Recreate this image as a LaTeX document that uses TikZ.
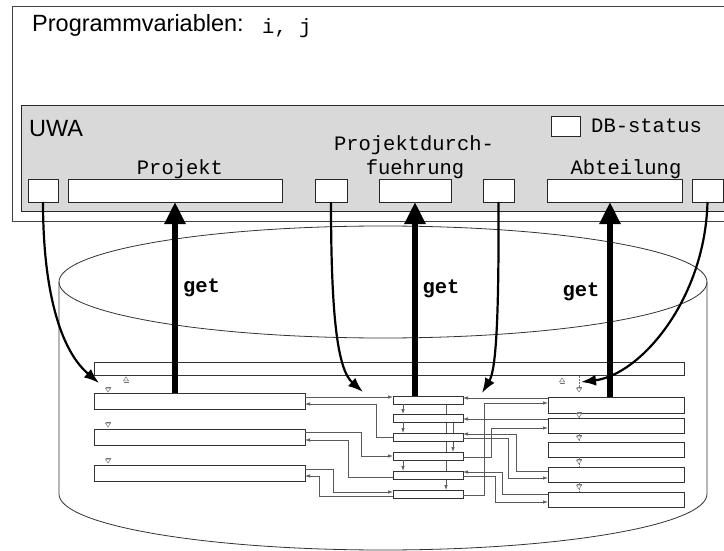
\documentclass[tikz,border=0pt]{standalone}
\usepackage{fontspec}
\setmainfont{Liberation Sans}
\setmonofont{Liberation Mono}
\usetikzlibrary{arrows.meta,backgrounds}
\begin{document}
\begin{tikzpicture}[x=1pt,y=-1pt,
  box/.style={draw=black!85, line width=0.9pt, fill=white, inner sep=0pt, outer sep=0pt},
  rec/.style={draw=black!80, line width=0.8pt, fill=white, inner sep=0pt, outer sep=0pt},
  conn/.style={draw=black!65, line width=0.7pt, -{Latex[length=5pt,width=3.5pt]}},
  getarr/.style={line width=6pt, -{Triangle[length=22pt,width=20pt]}},
  curv/.style={line width=2.2pt, -{Latex[length=15pt,width=11pt]}},
  sans/.style={font=\fontsize{23.5}{27}\selectfont, inner sep=0pt},
  mono/.style={font=\fontsize{20.5}{25}\selectfont\ttfamily, inner sep=0pt},
  getlbl/.style={font=\fontsize{20.5}{25}\selectfont\ttfamily\bfseries, inner sep=0pt},
  mk/.style={draw=black!55, line width=0.5pt, fill=white},
  mkline/.style={draw=black!55, line width=0.5pt},
  dnmk/.pic={\path[mk] (-2.5,-1.8) -- (2.5,-1.8) -- (0,2) -- cycle; \path[mkline] (-2.5,-3) -- (2.5,-3);},
  upmk/.pic={\path[mk] (-2.5,1.8) -- (2.5,1.8) -- (0,-2) -- cycle; \path[mkline] (-2.5,3) -- (2.5,3);}
]
\useasboundingbox (0,0) rectangle (724,551);
\clip (0,0) rectangle (724,551);

% program box and UWA
\node[box, draw=black!75, minimum width=718, minimum height=215, anchor=north west] (outer) at (12,6) {};
\node[box, fill=black!15, minimum width=709, minimum height=106, anchor=north west] (uwa) at (21,105) {};

\node[sans, anchor=base west] (pv) at (32,32) {Programmvariablen:};
\node[mono, anchor=base west] (ij) at (262,34) {i, j};
\node[sans, anchor=base west] (uwalbl) at (29,137) {UWA};
\node[box, minimum width=29, minimum height=20] (db) at (565.5,126) {};
\node[mono, anchor=base west] (dblbl) at (591,133) {DB-status};
\node[mono, anchor=base] (pdl1) at (414,150) {Projektdurch-};
\node[mono, anchor=base] (pdl2) at (415,175) {fuehrung};
\node[mono, anchor=base] (pjl) at (180,175) {Projekt};
\node[mono, anchor=base] (abl) at (626,175) {Abteilung};

\node[box, minimum width=30, minimum height=23] (b1) at (43,190.5) {};
\node[box, minimum width=214, minimum height=23] (projekt) at (175,190.5) {};
\node[box, minimum width=32, minimum height=23] (b2) at (331,190.5) {};
\node[box, minimum width=72, minimum height=23] (fuehr) at (415,190.5) {};
\node[box, minimum width=31, minimum height=23] (b3) at (498.5,190.5) {};
\node[box, minimum width=135, minimum height=23] (abt) at (614.5,190.5) {};
\node[box, minimum width=31, minimum height=23] (b4) at (707.5,190.5) {};

% cylinder
\draw[black!80, line width=0.8pt] (383,282) ellipse [x radius=324, y radius=56];
\draw[black!80, line width=0.8pt] (59,282) -- (59,494)
  arc[start angle=180, end angle=0, x radius=324, y radius=56] -- (707,282);

% records
\node[rec, minimum width=590, minimum height=13] (top) at (389,368.5) {};
\node[rec, minimum width=211, minimum height=16] (L1) at (199.5,401) {};
\node[rec, minimum width=211, minimum height=16] (L2) at (199.5,437) {};
\node[rec, minimum width=211, minimum height=16] (L3) at (199.5,473) {};
\node[rec, minimum width=70, minimum height=8] (M1) at (428,400) {};
\node[rec, minimum width=70, minimum height=8] (M2) at (428,418) {};
\node[rec, minimum width=70, minimum height=8] (M3) at (428,437) {};
\node[rec, minimum width=70, minimum height=8] (M4) at (428,456) {};
\node[rec, minimum width=70, minimum height=8] (M5) at (428,475) {};
\node[rec, minimum width=70, minimum height=8] (M6) at (428,494) {};
\node[rec, minimum width=136, minimum height=16] (R1) at (616,405) {};
\node[rec, minimum width=136, minimum height=15] (R2) at (616,425.5) {};
\node[rec, minimum width=136, minimum height=15] (R3) at (616,449.5) {};
\node[rec, minimum width=136, minimum height=15] (R4) at (616,474.5) {};
\node[rec, minimum width=136, minimum height=15] (R5) at (616,499.5) {};

% lines running behind the middle records
\begin{scope}[on background layer]
\draw[conn] (M1.south -| 446,0) -- (M6.north -| 446,0);
\draw[conn] (M2.south -| 453,0) -- (M4.north -| 453,0);
\end{scope}

% chain arrows in the middle column
\draw[conn] (M1.south -| 403,0) -- (M2.north -| 403,0);
\draw[conn] (M2.south -| 403,0) -- (M3.north -| 403,0);
\draw[conn] (M4.south -| 403,0) -- (M5.north -| 403,0);

% left <-> middle
\draw[conn] (L1.east |- 0,397) -- (M1.west |- 0,397);
\draw[conn] (M3.west) -- (376,437) -- (376,404) -- (L1.east |- 0,404);
\draw[conn] (L2.east |- 0,432) -- (361,432) -- (361,456) -- (M4.west);
\draw[conn] (M5.west |- 0,477) -- (348,477) -- (348,440) -- (L2.east |- 0,440);
\draw[conn] (L3.east |- 0,469) -- (333,469) -- (333,492) -- (M6.west |- 0,492);
\draw[conn] (M6.west |- 0,496) -- (319,496) -- (319,476) -- (L3.east |- 0,476);

% middle <-> right
\draw[conn] (R1.west |- 0,398) -- (M1.east |- 0,398);
\draw[conn] (M6.east |- 0,495) -- (484,495) -- (484,403) -- (R1.west |- 0,403);
\draw[conn] (R2.west |- 0,419) -- (M2.east |- 0,419);
\draw[conn] (M4.east |- 0,457) -- (491,457) -- (491,428) -- (R2.west |- 0,428);
\draw[conn] (R4.west |- 0,471) -- (516,471) -- (516,434) -- (M3.east |- 0,434);
\draw[conn] (M3.east |- 0,438) -- (508,438) -- (508,478) -- (R4.west |- 0,478);
\draw[conn] (R5.west |- 0,494) -- (502,494) -- (502,472) -- (M5.east |- 0,472);
\draw[conn] (M5.east |- 0,476) -- (495,476) -- (495,502) -- (R5.west |- 0,502);

% small markers
\pic at (126,379) {upmk};
\pic at (108,390) {dnmk};
\pic at (108,425) {dnmk};
\pic at (108,461) {dnmk};
\pic at (562,380) {upmk};
\draw[mkline, dashed, dash pattern=on 1.5pt off 1.5pt] (579,376) -- (579,387);
\pic at (579,390) {dnmk};
\draw[mkline, dashed, dash pattern=on 1.5pt off 1.5pt] (R1.south -| 579,0) -- (R2.north -| 579,0);
\pic at (579,415.5) {dnmk};
\draw[mkline, dashed, dash pattern=on 1.5pt off 1.5pt] (R2.south -| 579,0) -- (R3.north -| 579,0);
\pic at (579,438) {dnmk};
\draw[mkline, dashed, dash pattern=on 1.5pt off 1.5pt] (R3.south -| 579,0) -- (R4.north -| 579,0);
\pic at (579,462) {dnmk};
\draw[mkline, dashed, dash pattern=on 1.5pt off 1.5pt] (R4.south -| 579,0) -- (R5.north -| 579,0);
\pic at (579,487) {dnmk};

% get arrows
\coordinate (ga) at (610,202);
\draw[getarr] (projekt.south |- L1.north) -- (projekt.south);
\draw[getarr] (fuehr.south |- M1.north) -- (fuehr.south);
\draw[getarr] (ga |- R1.north) -- (ga);
\node[getlbl] (get1) at (201.5,288) {get};
\node[getlbl] (get2) at (441,289) {get};
\node[getlbl] (get3) at (581,292) {get};

% curved arrows
\coordinate (c1) at (99,383);
\coordinate (c2) at (363,392);
\coordinate (c3) at (482,393);
\coordinate (c4) at (581,382);
\draw[curv] (b1.south) .. controls (43,290) and (60,350) .. (c1);
\draw[curv] (b2.south) .. controls (331,320) and (338,370) .. (c2);
\draw[curv] (b3.south) .. controls (499,320) and (496,370) .. (c3);
\draw[curv] (b4.south) .. controls (705,300) and (640,375) .. (c4);
\end{tikzpicture}
\end{document}
